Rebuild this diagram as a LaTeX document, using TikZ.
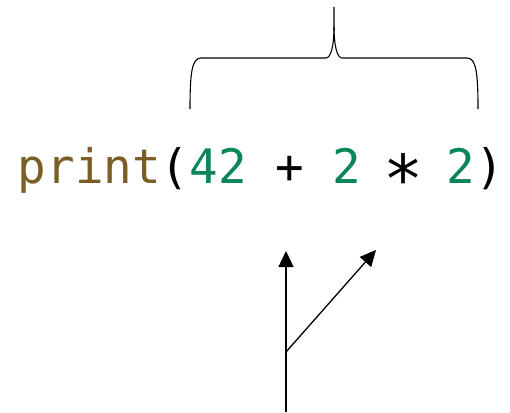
\documentclass[tikz,border=0pt]{standalone}
\usepackage{fontspec}
\usepackage{graphicx}
\newfontfamily\codefont{DejaVu Sans Mono}
\usetikzlibrary{arrows.meta}
\definecolor{fncol}{HTML}{795E26}
\definecolor{numcol}{HTML}{098658}
\newcommand{\bigast}{\makebox[0.602em][c]{\raisebox{5pt}{$\vcenter{\hbox{\scalebox{1.4}{∗}}}$}}}
\begin{document}
\begin{tikzpicture}[x=1pt,y=-1pt,
  brace/.style={line width=1.1pt,line join=round},
  arr/.style={line width=1.3pt,-{Triangle[length=16pt,width=15pt]}}]
\useasboundingbox (0,0) rectangle (510,412);
\node[anchor=base,inner sep=0pt,font=\codefont\fontsize{47.5}{50}\selectfont] (code) at (261,183)
  {\textcolor{fncol}{print}(\textcolor{numcol}{42} + \textcolor{numcol}{2} \bigast{} \textcolor{numcol}{2})};
\coordinate (bl) at (190,109);
\coordinate (br) at (478,109);
\coordinate (bt) at (334,7);
\draw[brace] (bl) .. controls (190,72) and (192,58) .. (201,58) -- (326,58)
  .. controls (331,58) and (334,45) .. (334,27) -- (bt);
\draw[brace] (br) .. controls (478,72) and (476,58) .. (467,58) -- (342,58)
  .. controls (337,58) and (334,45) .. (334,27);
\coordinate (base) at (286,412);
\coordinate (fork) at (286,352);
\coordinate (t1) at (286,251);
\coordinate (t2) at (376,250);
\draw[arr] (base) -- (t1);
\draw[arr] (fork) -- (t2);
\end{tikzpicture}
\end{document}
